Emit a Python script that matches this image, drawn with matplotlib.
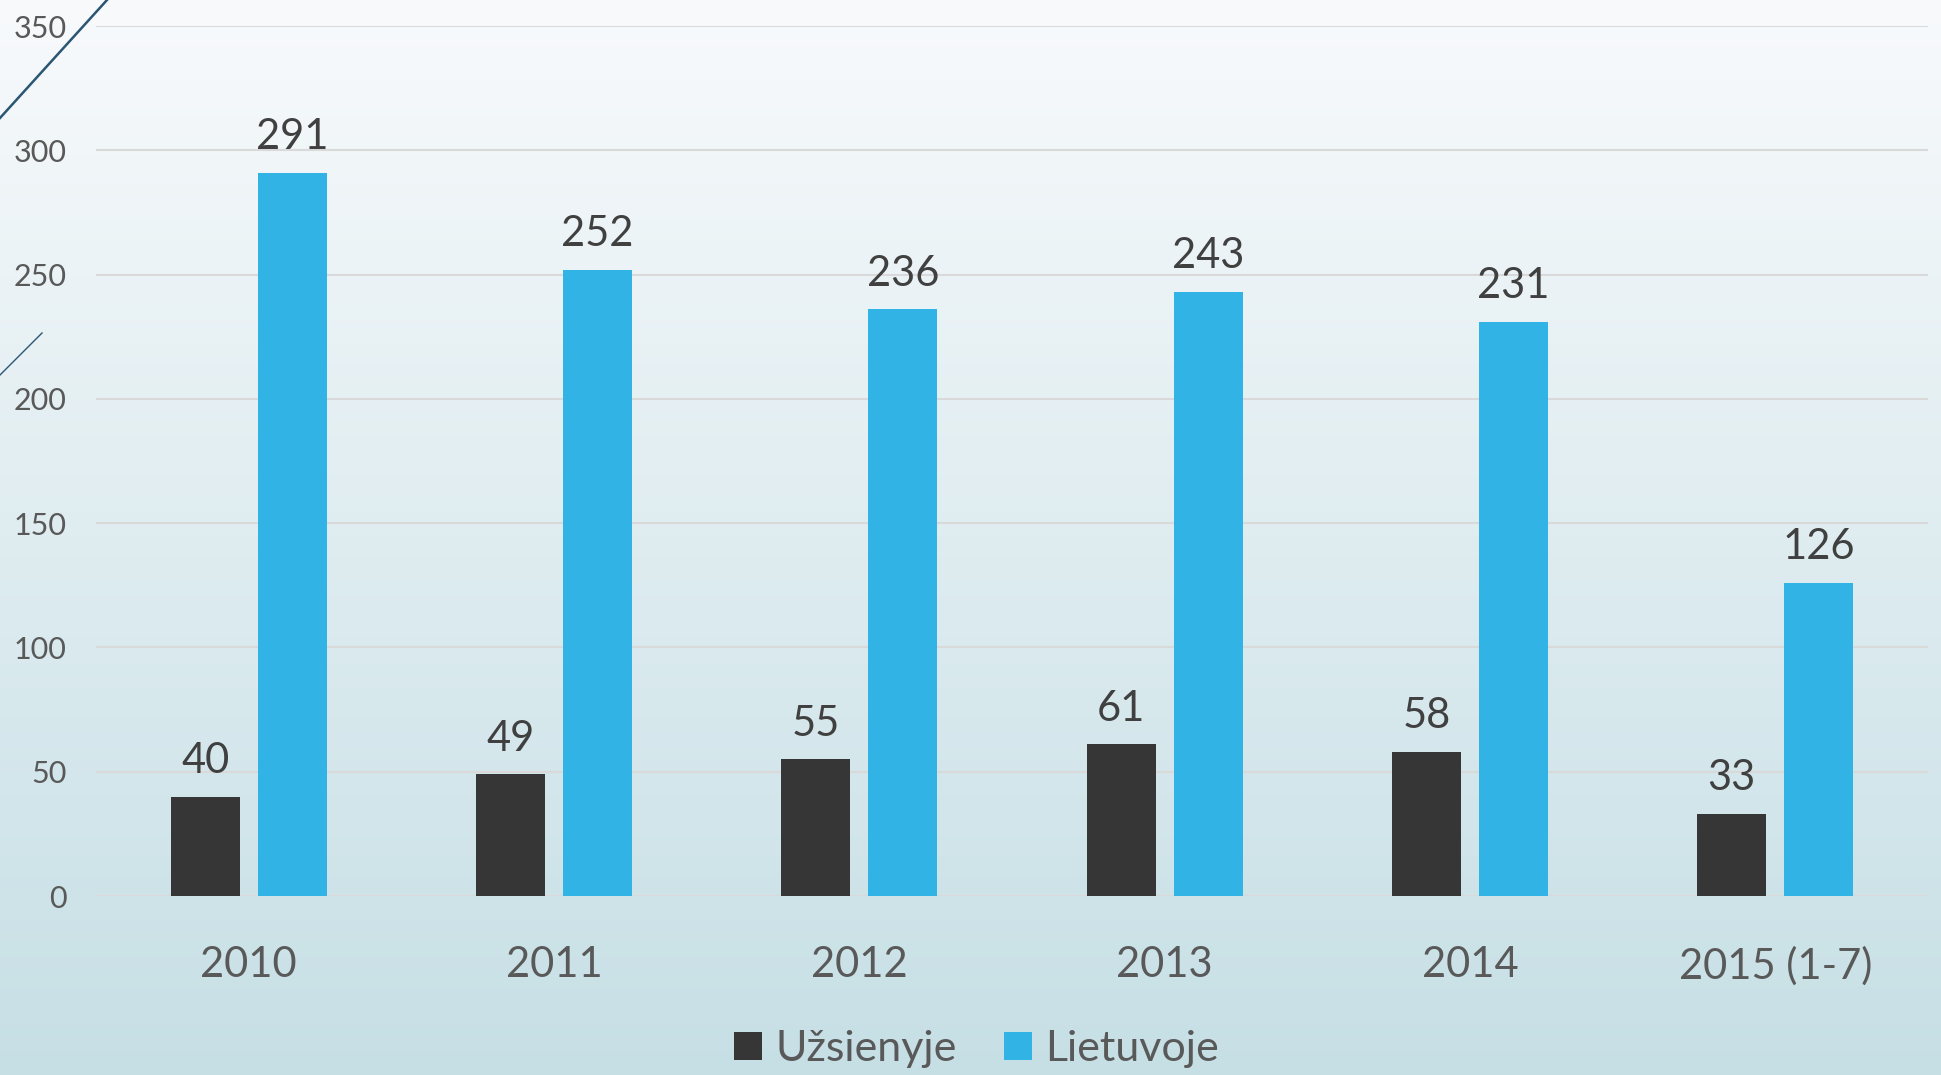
import numpy as np
import matplotlib
matplotlib.use("Agg")
import matplotlib.pyplot as plt
from matplotlib.lines import Line2D

# data
years = ["2010", "2011", "2012", "2013", "2014", "2015 (1-7)"]
uzsienyje = [40, 49, 55, 61, 58, 33]
lietuvoje = [291, 252, 236, 243, 231, 126]
series_names = ["Užsienyje", "Lietuvoje"]
yticks = [0, 50, 100, 150, 200, 250, 300, 350]

plt.rcParams['font.family'] = ['Lato', 'DejaVu Sans']

fig = plt.figure(figsize=(19.41, 10.75), dpi=100)

# gradient background
bg = fig.add_axes([0, 0, 1, 1], zorder=-10)
top = np.array([0.973, 0.980, 0.988])
bot = np.array([0.776, 0.875, 0.898])
t = np.linspace(0, 1, 256)[:, None]
grad = (top[None, :] * (1 - t) + bot[None, :] * t)[:, None, :]
bg.imshow(grad, aspect='auto', extent=[0, 1, 0, 1], origin='upper')
bg.set_xlim(0, 1)
bg.set_ylim(0, 1)
bg.axis('off')

# decorative lines top-left
fig.add_artist(Line2D([0, 107 / 1941], [1 - 118 / 1075, 1], transform=fig.transFigure,
                      color='#2b5673', lw=1.8))
fig.add_artist(Line2D([0, 42 / 1941], [1 - 375 / 1075, 1 - 333 / 1075], transform=fig.transFigure,
                      color='#2b5673', lw=1.0))

ax = fig.add_axes([96 / 1941, 1 - 896 / 1075, (1928 - 96) / 1941, (896 - 26) / 1075])
ax.set_facecolor('none')

x = np.arange(len(years))
w = 0.226
off = 0.1425
b1 = ax.bar(x - off, uzsienyje, w, color='#363636', label=series_names[0], zorder=3)
b2 = ax.bar(x + off, lietuvoje, w, color='#31b4e5', label=series_names[1], zorder=3)

for bars, vals in ((b1, uzsienyje), (b2, lietuvoje)):
    for r, v in zip(bars, vals):
        ax.annotate(str(v), (r.get_x() + r.get_width() / 2, v), xytext=(0, 12),
                    textcoords='offset points', ha='center', va='bottom',
                    fontsize=30, color='#404040')

ax.set_ylim(0, 350)
ax.set_xlim(-0.5, len(years) - 0.5)
ax.set_yticks(yticks)
ax.yaxis.grid(True, color='#d9d9d9', lw=1.5, zorder=0)
ax.set_axisbelow(True)
for s in ax.spines.values():
    s.set_visible(False)
ax.tick_params(axis='y', length=0, pad=21, labelsize=22, labelcolor='#595959')
ax.set_xticks(x)
ax.set_xticklabels(years)
ax.tick_params(axis='x', length=0, pad=36, labelsize=30, labelcolor='#595959')

leg = fig.legend(handles=[b1, b2], loc='center', bbox_to_anchor=(0.503, 0.024), ncol=2,
                 frameon=False, fontsize=31, handlelength=0.65, handleheight=0.65,
                 handletextpad=0.3, columnspacing=1.1, labelcolor='#595959')

fig.savefig("out.png", dpi=100)
